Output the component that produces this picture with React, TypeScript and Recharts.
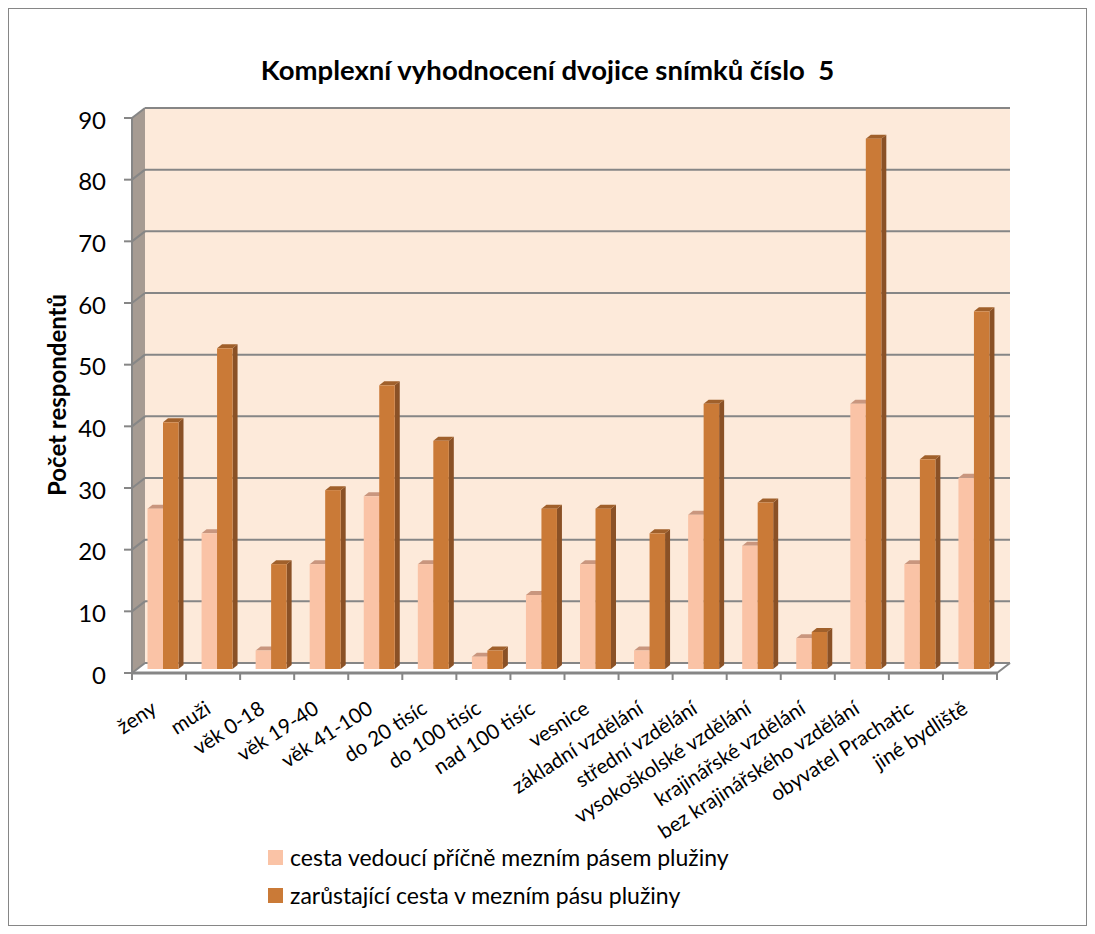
import React from 'react';
import { BarChart, Bar, XAxis, YAxis, CartesianGrid, Customized } from 'recharts';

const categories = [
  'ženy',
  'muži',
  'věk 0-18',
  'věk 19-40',
  'věk 41-100',
  'do 20 tisíc',
  'do 100 tisíc',
  'nad 100 tisíc',
  'vesnice',
  'základní vzdělání',
  'střední vzdělání',
  'vysokoškolské vzdělání',
  'krajinářské vzdělání',
  'bez krajinářského vzdělání',
  'obyvatel Prachatic',
  'jiné bydliště',
];
const crossing = [26, 22, 3, 17, 28, 17, 2, 12, 17, 3, 25, 20, 5, 43, 17, 31];
const overgrown = [40, 52, 17, 29, 46, 37, 3, 26, 26, 22, 43, 27, 6, 86, 34, 58];
const yTicks = [0, 10, 20, 30, 40, 50, 60, 70, 80, 90];
const seriesNames = [
  'cesta vedoucí příčně mezním pásem plužiny',
  'zarůstající cesta v mezním pásu plužiny',
];

const data = categories.map((name, i) => ({ name, crossing: crossing[i], overgrown: overgrown[i] }));

const FONT = 'Lato, "Open Sans", sans-serif';
const W = 1077;
const H = 916;
// back wall of the 3d plot
const PLOT = { left: 136, top: 99, right: 1001, bottom: 654 };
const DX = 13; // front plane is shifted left/down
const DY = 10;
const Y_AXIS_W = 40;
const X_AXIS_H = 30;
const BAND = (PLOT.right - PLOT.left) / categories.length;
const GRID = '#868686';

const LIGHT = { front: '#FAC3A6', side: '#D9A184', top: '#C9967E' };
const DARK = { front: '#CA7A37', side: '#8A5126', top: '#A0602B' };

const makeShape = (c: { front: string; side: string; top: string }) => (props: any) => {
  const { x, y, width, height } = props;
  if (height == null || width == null) return null;
  const fx = x - 9.5;
  const fy = y + 6;
  const d = 5;
  const dv = 4;
  return (
    <g>
      <polygon
        points={`${fx + width},${fy} ${fx + width + d},${fy - dv} ${fx + width + d},${fy + height - dv} ${fx + width},${fy + height}`}
        fill={c.side}
      />
      <polygon
        points={`${fx},${fy} ${fx + d},${fy - dv} ${fx + width + d},${fy - dv} ${fx + width},${fy}`}
        fill={c.top}
      />
      <rect x={fx} y={fy} width={width} height={height} fill={c.front} />
    </g>
  );
};

const YTick = (props: any) => {
  const { y, payload } = props;
  const fx = PLOT.left - DX;
  return (
    <g>
      <line x1={fx} y1={y + DY} x2={PLOT.left} y2={y} stroke={GRID} strokeWidth={2} />
      <line x1={fx - 8} y1={y + DY} x2={fx} y2={y + DY} stroke={GRID} strokeWidth={2} />
      <text x={PLOT.left - 39} y={y + DY + 1} textAnchor="end" dominantBaseline="central" fontSize={24} fontFamily={FONT} fill="#000">
        {payload.value}
      </text>
    </g>
  );
};

const XTick = (props: any) => {
  const { x, payload } = props;
  const index = props.index ?? payload.index;
  const fy = PLOT.bottom + DY;
  const left = x - BAND / 2 - DX;
  return (
    <g>
      <line x1={left} y1={fy} x2={left} y2={fy + 7} stroke={GRID} strokeWidth={2} />
      {index === categories.length - 1 && (
        <line x1={left + BAND} y1={fy} x2={left + BAND} y2={fy + 7} stroke={GRID} strokeWidth={2} />
      )}
      <text
        transform={`translate(${x - DX - 1}, ${fy + 39}) rotate(-33)`}
        textAnchor="end"
        fontSize={20.5}
        fontFamily={FONT}
        fill="#000"
      >
        {payload.value}
      </text>
    </g>
  );
};

const Frame = () => (
  <g>
    <polygon
      points={`${PLOT.left - DX},${PLOT.top + DY} ${PLOT.left},${PLOT.top} ${PLOT.left},${PLOT.bottom} ${PLOT.left - DX},${PLOT.bottom + DY}`}
      fill="#A69B92"
    />
    <line x1={PLOT.left - DX} y1={PLOT.top + DY} x2={PLOT.left - DX} y2={PLOT.bottom + DY} stroke={GRID} strokeWidth={2} />
    <line x1={PLOT.left - DX} y1={PLOT.bottom + DY} x2={PLOT.right - DX} y2={PLOT.bottom + DY} stroke={GRID} strokeWidth={3} />
    <line x1={PLOT.right - DX} y1={PLOT.bottom + DY} x2={PLOT.right} y2={PLOT.bottom} stroke={GRID} strokeWidth={2} />
    <text
      transform={`translate(47, 386) rotate(-90)`}
      textAnchor="middle"
      dominantBaseline="central"
      fontSize={24}
      fontWeight="bold"
      fontFamily={FONT}
      fill="#000"
    >
      Počet respondentů
    </text>
  </g>
);

export default function App() {
  return (
    <div style={{ position: 'relative', width: W, height: H, border: `1px solid ${GRID}`, fontFamily: FONT, background: '#fff' }}>
      <div
        style={{
          position: 'absolute',
          top: 45,
          left: 0,
          width: W,
          textAlign: 'center',
          fontSize: 27.5,
          fontWeight: 'bold',
          lineHeight: '32px',
          whiteSpace: 'pre',
        }}
      >
        {'Komplexní vyhodnocení dvojice snímků číslo  5'}
      </div>
      <BarChart
        width={W}
        height={H}
        data={data}
        barGap={0}
        barSize={15.5}
        margin={{
          top: PLOT.top,
          right: W - PLOT.right,
          bottom: H - PLOT.bottom - X_AXIS_H,
          left: PLOT.left - Y_AXIS_W,
        }}
      >
        <Customized component={Frame} />
        <CartesianGrid vertical={false} fill="#FDEADA" stroke={GRID} strokeWidth={2} fillOpacity={1} />
        <XAxis
          dataKey="name"
          height={X_AXIS_H}
          interval={0}
          axisLine={false}
          tickLine={false}
          tickSize={0}
          tick={<XTick />}
        />
        <YAxis
          width={Y_AXIS_W}
          domain={[0, 90]}
          ticks={yTicks}
          axisLine={false}
          tickLine={false}
          tickSize={0}
          tick={<YTick />}
        />
        <Bar dataKey="crossing" name={seriesNames[0]} fill={LIGHT.front} shape={makeShape(LIGHT)} isAnimationActive={false} />
        <Bar dataKey="overgrown" name={seriesNames[1]} fill={DARK.front} shape={makeShape(DARK)} isAnimationActive={false} />
      </BarChart>
      <div style={{ position: 'absolute', left: 259, top: 829, fontSize: 23, lineHeight: '38px' }}>
        {seriesNames.map((n, i) => (
          <div key={n} style={{ display: 'flex', alignItems: 'center' }}>
            <span
              style={{
                display: 'inline-block',
                width: 15,
                height: 15,
                marginRight: 7,
                background: i === 0 ? LIGHT.front : DARK.front,
              }}
            />
            <span>{n}</span>
          </div>
        ))}
      </div>
    </div>
  );
}
